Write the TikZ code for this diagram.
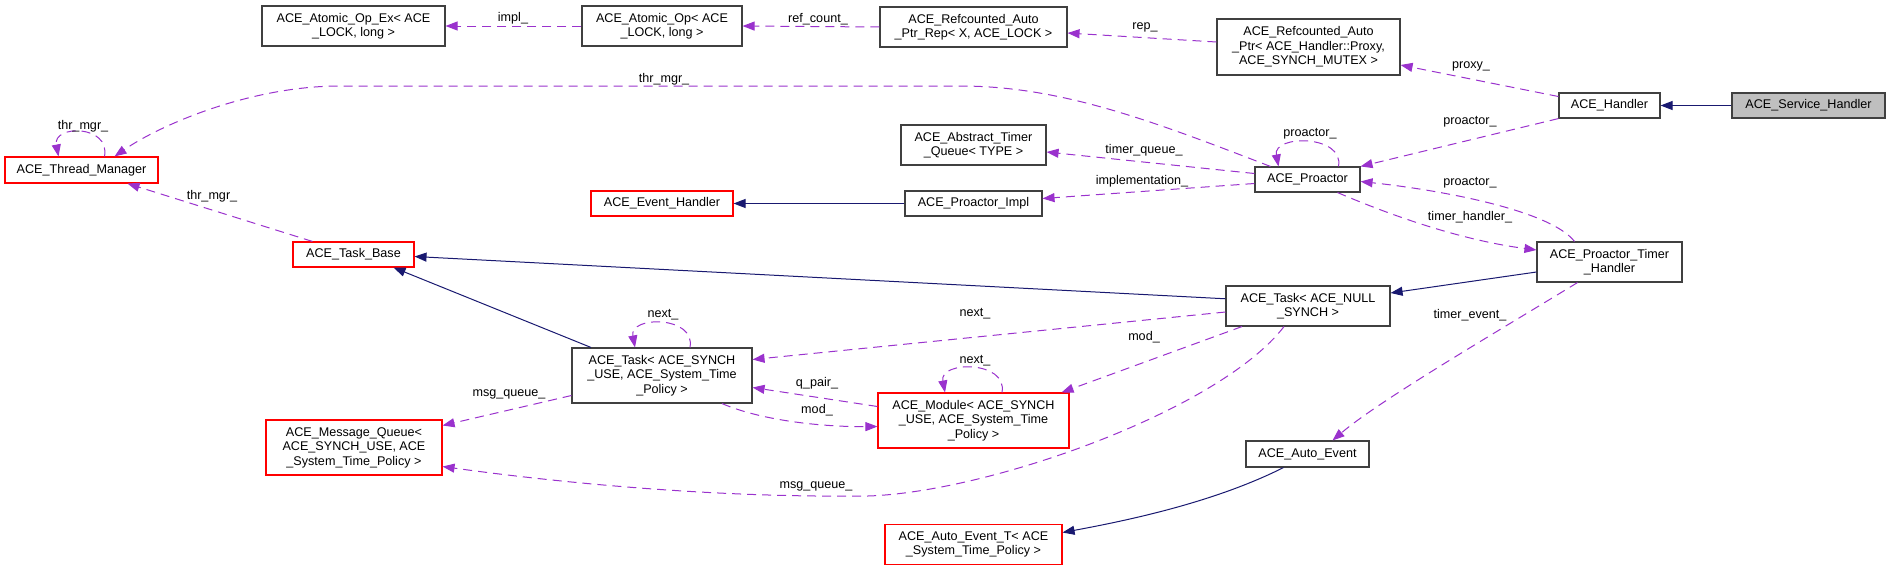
\documentclass[tikz,border=0pt]{standalone}
\usepackage{fontspec}
\setmainfont{Liberation Sans}
\usetikzlibrary{arrows.meta}

\definecolor{usepurple}{RGB}{154,50,205}
\definecolor{inhnavy}{RGB}{25,25,112}
\definecolor{curgray}{RGB}{191,191,191}

\tikzset{
    cls/.style={draw=black!75, line width=1.1pt, inner sep=0pt, align=center, font=\fontsize{12.6}{14.5}\selectfont},
    redcls/.style={cls, draw=red},
    curcls/.style={cls, fill=curgray},
    inh/.style={draw=inhnavy, line width=1pt, -{Triangle[length=12pt,width=9pt]}},
    uses/.style={draw=usepurple, line width=1pt, dash pattern=on 9pt off 6pt, -{Triangle[length=12pt,width=9pt]}},
    lbl/.style={inner sep=0pt, font=\fontsize{12.6}{14.5}\selectfont},
}

\begin{document}
\begin{tikzpicture}[x=1pt, y=-1pt]
    \useasboundingbox (0,0) rectangle (1891,571);

    % Classes
    \node[cls, minimum width=183pt, minimum height=40pt] (aopex) at (353.5,26) {ACE\_Atomic\_Op\_Ex< ACE\\\_LOCK, long >};
    \node[cls, minimum width=160pt, minimum height=40pt] (aop) at (662,26) {ACE\_Atomic\_Op< ACE\\\_LOCK, long >};
    \node[cls, minimum width=187pt, minimum height=40pt] (rapr) at (973.5,27) {ACE\_Refcounted\_Auto\\\_Ptr\_Rep< X, ACE\_LOCK >};
    \node[cls, minimum width=183pt, minimum height=56pt] (rap) at (1308.5,47) {ACE\_Refcounted\_Auto\\\_Ptr< ACE\_Handler::Proxy,\\ACE\_SYNCH\_MUTEX >};
    \node[cls, minimum width=101pt, minimum height=25pt] (handler) at (1609.5,105.5) {ACE\_Handler};
    \node[curcls, minimum width=153pt, minimum height=25pt] (svc) at (1808.5,105.5) {ACE\_Service\_Handler};
    \node[redcls, minimum width=153pt, minimum height=26pt] (thrmgr) at (81.5,170) {ACE\_Thread\_Manager};
    \node[cls, minimum width=145pt, minimum height=40pt] (atq) at (973.5,145) {ACE\_Abstract\_Timer\\\_Queue< TYPE >};
    \node[cls, minimum width=105pt, minimum height=25pt] (proactor) at (1307.5,179.5) {ACE\_Proactor};
    \node[redcls, minimum width=142pt, minimum height=25pt] (evh) at (662,203.5) {ACE\_Event\_Handler};
    \node[cls, minimum width=137pt, minimum height=25pt] (pimpl) at (973.5,203.5) {ACE\_Proactor\_Impl};
    \node[redcls, minimum width=121pt, minimum height=25pt] (taskbase) at (353.5,254.5) {ACE\_Task\_Base};
    \node[cls, minimum width=145pt, minimum height=40pt] (pth) at (1609.5,262) {ACE\_Proactor\_Timer\\\_Handler};
    \node[cls, minimum width=164pt, minimum height=40pt] (tasknull) at (1308,306) {ACE\_Task< ACE\_NULL\\\_SYNCH >};
    \node[cls, minimum width=180pt, minimum height=55pt] (tasksynch) at (662,375.5) {ACE\_Task< ACE\_SYNCH\\\_USE, ACE\_System\_Time\\\_Policy >};
    \node[redcls, minimum width=176pt, minimum height=55pt] (msgq) at (354,447.5) {ACE\_Message\_Queue<\\ACE\_SYNCH\_USE, ACE\\\_System\_Time\_Policy >};
    \node[redcls, minimum width=191pt, minimum height=55pt] (module) at (973.5,420.5) {ACE\_Module< ACE\_SYNCH\\\_USE, ACE\_System\_Time\\\_Policy >};
    \node[cls, minimum width=123pt, minimum height=26pt] (autoev) at (1307.5,454) {ACE\_Auto\_Event};
    \node[redcls, minimum width=177pt, minimum height=40pt] (autoevt) at (973.5,544.5) {ACE\_Auto\_Event\_T< ACE\\\_System\_Time\_Policy >};

    % Inheritance
    \draw[inh] (svc.west) -- (handler.east);
    \draw[inh] (pimpl.west) -- (evh.east);
    \draw[inh] (tasknull.175) -- ([yshift=-2pt]taskbase.east);
    \draw[inh] ([xshift=-71pt]tasksynch.north) -- ([xshift=40pt]taskbase.south);
    \draw[inh] ([yshift=-10pt]pth.west) -- ([yshift=13pt]tasknull.east);
    \draw[inh] ([xshift=-24pt]autoev.south) .. controls (1215,502) and (1130,520) .. ([yshift=12pt]autoevt.east);

    % Members
    \draw[uses] (aop.west) -- (aopex.east);
    \draw[uses] (rapr.west) -- (aop.east);
    \draw[uses] ([yshift=5pt]rap.west) -- ([yshift=-6pt]rapr.east);
    \draw[uses] ([yshift=9pt]handler.west) -- ([yshift=-18pt]rap.east);
    \draw[uses] (handler.south west) -- (proactor.north east);
    \draw[uses] ([xshift=-37pt]proactor.north) .. controls (1150,120) and (1060,86) .. (960,86) -- (340,86) .. controls (250,86) and (160,125) .. ([xshift=33pt]thrmgr.north);
    \draw[uses] ([xshift=-41pt]taskbase.north) -- ([xshift=46pt]thrmgr.south);
    \draw[uses] ([yshift=6pt]proactor.west) -- ([yshift=-7pt]atq.east);
    \draw[uses] ([yshift=-4pt]proactor.west) -- ([yshift=5pt]pimpl.east);
    \draw[uses] ([xshift=30pt]proactor.south) .. controls (1390,215) and (1460,240) .. ([yshift=12pt]pth.west);
    \draw[uses] ([xshift=-35pt]pth.north) .. controls (1550,210) and (1440,190) .. ([yshift=-2pt]proactor.east);
    \draw[uses] ([xshift=-32pt]pth.south) .. controls (1500,330) and (1380,400) .. ([xshift=25pt]autoev.north);
    \draw[uses] ([yshift=-6pt]tasknull.west) -- ([yshift=16pt]tasksynch.east);
    \draw[uses] ([xshift=-66pt]tasknull.south) -- ([xshift=-8pt]module.north east);
    \draw[uses] ([xshift=-24pt]tasknull.south) .. controls (1220,410) and (990,492) .. (868,496) .. controls (700,498) and (540,480) .. ([yshift=-19pt]msgq.east);
    \draw[uses] ([yshift=14pt]module.west) -- ([yshift=-12pt]tasksynch.east);
    \draw[uses] ([xshift=60pt]tasksynch.south) .. controls (760,420) and (820,427) .. ([yshift=-6pt]module.west);
    \draw[uses] ([yshift=-20pt]tasksynch.west) -- ([yshift=22pt]msgq.east);

    % self loops
    \draw[uses] ([xshift=23pt]thrmgr.north) .. controls +(6,-32) and +(-6,-32) .. ([xshift=-23pt]thrmgr.north);
    \draw[uses] ([xshift=31pt]proactor.north) .. controls +(6,-32) and +(-6,-32) .. ([xshift=-29pt]proactor.north);
    \draw[uses] ([xshift=28pt]tasksynch.north) .. controls +(6,-32) and +(-6,-32) .. ([xshift=-27pt]tasksynch.north);
    \draw[uses] ([xshift=28.5pt]module.north) .. controls +(6,-32) and +(-6,-32) .. ([xshift=-28.5pt]module.north);

    % labels
    \node[lbl] (limpl) at (513,18) {impl\_};
    \node[lbl] (lrefcount) at (818,19) {ref\_count\_};
    \node[lbl] (lrep) at (1145,27) {rep\_};
    \node[lbl] (lproxy) at (1471,66) {proxy\_};
    \node[lbl] (lproactora) at (1470,122) {proactor\_};
    \node[lbl] (lthrmgra) at (664,79) {thr\_mgr\_};
    \node[lbl] (lthrmgrb) at (83,126) {thr\_mgr\_};
    \node[lbl] (lthrmgrc) at (212,196) {thr\_mgr\_};
    \node[lbl] (lproactorb) at (1310,134) {proactor\_};
    \node[lbl] (ltimerqueue) at (1144,150) {timer\_queue\_};
    \node[lbl] (limplementation) at (1142,181) {implementation\_};
    \node[lbl] (lproactorc) at (1470,183) {proactor\_};
    \node[lbl] (ltimerhandler) at (1470,217) {timer\_handler\_};
    \node[lbl] (ltimerevent) at (1470,315) {timer\_event\_};
    \node[lbl] (lnexta) at (975,314) {next\_};
    \node[lbl] (lmoda) at (1144,337) {mod\_};
    \node[lbl] (lmsgqueuea) at (816,486) {msg\_queue\_};
    \node[lbl] (lnextb) at (663,315) {next\_};
    \node[lbl] (lnextc) at (975,361) {next\_};
    \node[lbl] (lqpair) at (817,383) {q\_pair\_};
    \node[lbl] (lmodb) at (817,410) {mod\_};
    \node[lbl] (lmsgqueueb) at (509,394) {msg\_queue\_};

\end{tikzpicture}
\end{document}
